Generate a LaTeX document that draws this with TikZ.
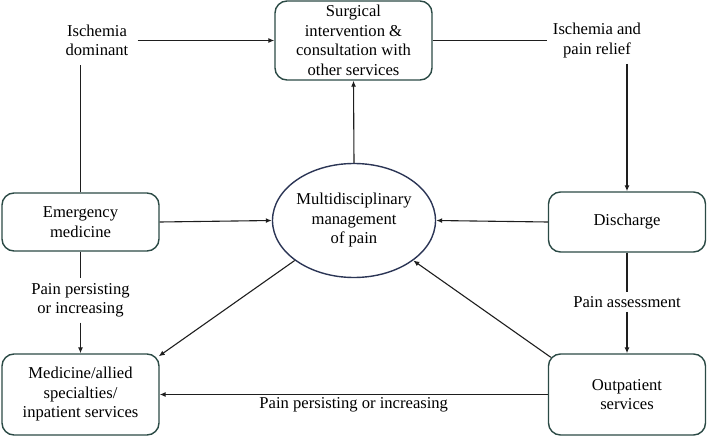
\documentclass[tikz,border=0pt]{standalone}
\usepackage{fontspec}
\setmainfont{Liberation Serif}
\usetikzlibrary{arrows.meta}
\usetikzlibrary{shapes.geometric,calc}

\definecolor{boxcol}{HTML}{2B4A45}
\definecolor{ellcol}{HTML}{2B3555}
\definecolor{arrcol}{HTML}{1E1E1E}

\tikzset{
  stage/.style={draw=boxcol,line width=1.4pt,rounded corners=12pt,align=center,
    minimum width=157pt,inner sep=3pt},
  note/.style={align=center,inner sep=5pt},
  arr/.style={draw=arrcol,line width=1.1pt,-{Latex[length=6pt,width=5pt]}},
  ln/.style={draw=arrcol,line width=1.1pt}
}

\begin{document}
\begin{tikzpicture}[x=1pt,y=-1pt,font=\fontsize{16.6}{19.5}\selectfont]
    \useasboundingbox (0,0) rectangle (707,436);

		% boxes
		\node [stage,minimum height=79pt] (surg) at (353.5,40.5)
		  {Surgical\\intervention \&\\consultation with\\other services};
		\node [stage,minimum height=58pt] (emerg) at (80.5,222) {Emergency\\medicine};
		\node [stage,minimum height=60pt] (disch) at (627,222) {Discharge};
		\node [stage,minimum height=81pt] (med) at (80.5,394.5)
		  {Medicine/allied\\specialties/\\inpatient services};
		\node [stage,minimum height=81pt] (outp) at (627,394.5) {Outpatient\\services};
		\node [draw=ellcol,line width=1.4pt,ellipse,align=center,inner sep=0pt,
		  minimum width=159pt,minimum height=114pt] (mdp) at (354,220.5)
		  {Multidisciplinary\\management\\of pain};

		% labels
		\node [note,inner sep=9pt] (isch) at (97,40.5) {Ischemia\\dominant};
		\node [note,inner sep=6pt] (relief) at (597,40.5) {Ischemia and\\pain relief};
		\node [note] (pp) at (80.5,300.5) {Pain persisting\\or increasing};
		\node [note,inner sep=4pt] (pa) at (627,302) {Pain assessment};

		% connectors
		\draw [ln] (emerg.north) -- (emerg.north |- isch.south);
		\draw [arr] (isch.east) -- (surg.west);
		\draw [ln] (surg.east) -- (relief.west);
		\draw [arr] (relief.south -| disch.north) -- (disch.north);
		\draw [arr] (mdp.north) -- (surg.south);
		\draw [arr] (emerg.east) -- (mdp.west);
		\draw [arr] (disch.west) -- (mdp.east);
		\draw [ln] (emerg.south) -- (pp.north);
		\draw [arr] (pp.south) -- (med.north);
		\draw [ln] (disch.south) -- (pa.north);
		\draw [arr] (pa.south) -- (outp.north);
		\draw [arr] (mdp.214) -- ($(med.north east)+(-1,3)$);
		\draw [arr] ($(outp.north west)+(3,4)$) -- (mdp.326);
		\draw [arr] (outp.west) -- node [below,inner sep=2pt] {Pain persisting or increasing} (med.east);
\end{tikzpicture}
\end{document}
